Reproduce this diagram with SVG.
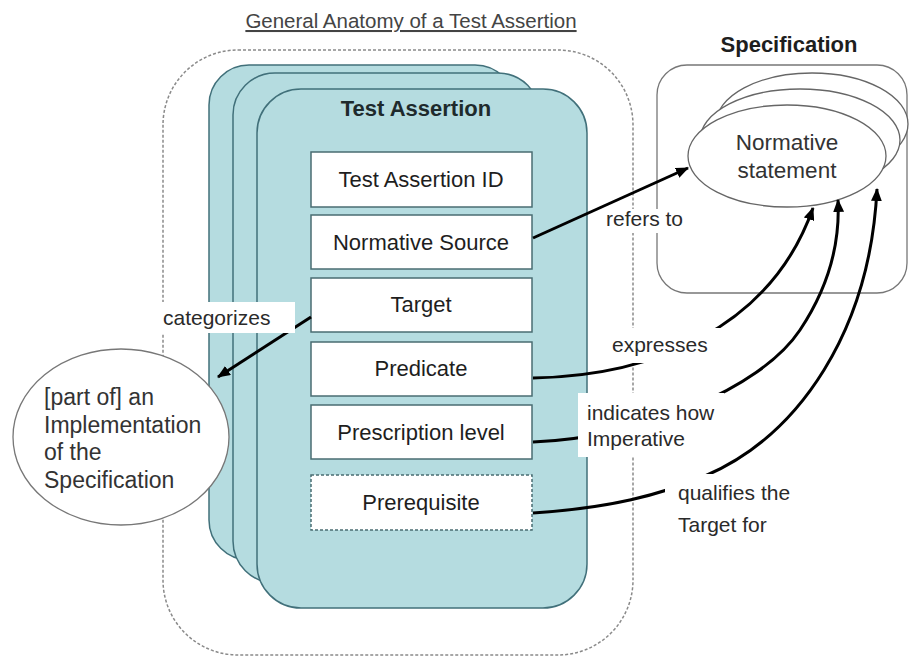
<svg xmlns="http://www.w3.org/2000/svg" width="909" height="658" viewBox="0 0 909 658">
<style>
text{font-family:"Liberation Sans",Arial,sans-serif;}
.card{fill:#b5dce0;stroke:#41707a;stroke-width:1.5;}
.field{fill:#ffffff;stroke:#4a6c72;stroke-width:1.5;}
.ftxt{font-size:22px;fill:#1e1e1e;text-anchor:middle;}
.lbl{font-size:21px;fill:#2a2a2a;}
.lblbg{fill:#ffffff;}
.conn{fill:none;stroke:#000;stroke-width:3;}
.ell{fill:#ffffff;stroke:#666;stroke-width:1.3;}
</style>
<defs>
<marker id="ah" viewBox="0 0 12 10" refX="11" refY="5" markerWidth="13" markerHeight="11" markerUnits="userSpaceOnUse" orient="auto">
<path d="M0,0 L12,5 L0,10 z" fill="#000"/>
</marker>
</defs>
<rect width="909" height="658" fill="#ffffff"/>
<text x="411" y="28" font-size="20.5" fill="#444" text-anchor="middle" text-decoration="underline">General Anatomy of a Test Assertion</text>

<g id="scope">
<rect x="163" y="50" width="470" height="605" rx="75" ry="75" fill="none" stroke="#8a8a8a" stroke-width="1.5" stroke-dasharray="3,2"/>
</g>

<g id="specification">
<text x="789" y="52" font-size="22" font-weight="bold" fill="#1e1e1e" text-anchor="middle">Specification</text>
<rect x="657" y="65" width="250" height="228" rx="30" ry="30" fill="none" stroke="#777" stroke-width="1.3"/>
</g>

<g id="normative-statement">
<ellipse class="ell" cx="812" cy="124" rx="96" ry="51"/>
<ellipse class="ell" cx="800" cy="140" rx="100" ry="51"/>
<ellipse class="ell" cx="787" cy="156" rx="99" ry="51"/>
<text x="787" y="150" font-size="22.5" fill="#333" text-anchor="middle">Normative</text>
<text x="787" y="178" font-size="22.5" fill="#333" text-anchor="middle">statement</text>
</g>

<g id="test-assertion">
<rect class="card" x="209" y="65" width="306" height="495" rx="40" ry="40"/>
<rect class="card" x="233" y="73" width="307" height="510" rx="42" ry="42"/>
<rect class="card" x="257" y="89" width="330" height="519" rx="44" ry="44"/>
<text x="416" y="116" font-size="22" font-weight="bold" fill="#1e2a2c" text-anchor="middle">Test Assertion</text>
</g>

<g id="field-id">
<rect class="field" x="311" y="152" width="221" height="55"/>
<text class="ftxt" x="421" y="187">Test Assertion ID</text>
</g>
<g id="field-source">
<rect class="field" x="311" y="215" width="221" height="54"/>
<text class="ftxt" x="421" y="250">Normative Source</text>
</g>
<g id="field-target">
<rect class="field" x="311" y="278" width="221" height="54"/>
<text class="ftxt" x="421" y="312">Target</text>
</g>
<g id="field-predicate">
<rect class="field" x="311" y="342" width="221" height="54"/>
<text class="ftxt" x="421" y="376">Predicate</text>
</g>
<g id="field-prescription">
<rect class="field" x="311" y="405" width="221" height="54"/>
<text class="ftxt" x="421" y="440">Prescription level</text>
</g>
<g id="field-prerequisite">
<rect class="field" x="311" y="475" width="221" height="55" stroke-dasharray="3,2"/>
<text class="ftxt" x="421" y="510">Prerequisite</text>
</g>

<g id="implementation">
<ellipse cx="121" cy="437" rx="108" ry="88" fill="#ffffff" stroke="#777" stroke-width="1.3"/>
<text x="44" y="405" font-size="23" fill="#333">[part of] an</text>
<text x="44" y="433" font-size="23" fill="#333">Implementation</text>
<text x="44" y="460" font-size="23" fill="#333">of the</text>
<text x="44" y="488" font-size="23" fill="#333">Specification</text>
</g>

<g id="connectors">
<path class="conn" d="M533,238 L688,168" marker-end="url(#ah)"/>
<path class="conn" d="M311,317 L218,377" marker-end="url(#ah)"/>
<path class="conn" d="M533,378 C650,376 770,330 813,208" marker-end="url(#ah)"/>
<path class="conn" d="M533,442 C640,438 760,390 800,330 C830,285 840,240 838,200" marker-end="url(#ah)"/>
<path class="conn" d="M533,513 C610,508 660,495 705,476 C800,435 870,330 877,189" marker-end="url(#ah)"/>
</g>

<g id="labels">
<rect class="lblbg" x="160" y="302" width="135" height="31"/>
<text class="lbl" x="163" y="325">categorizes</text>
<rect class="lblbg" x="603" y="209" width="90" height="24"/>
<text class="lbl" x="606" y="226">refers to</text>
<rect class="lblbg" x="606" y="328" width="116" height="35"/>
<text class="lbl" x="612" y="352">expresses</text>
<rect class="lblbg" x="578" y="393" width="146" height="64"/>
<text class="lbl" x="587" y="420">indicates how</text>
<text class="lbl" x="587" y="446">Imperative</text>
<rect class="lblbg" x="665" y="474" width="130" height="68"/>
<text class="lbl" x="678" y="500">qualifies the</text>
<text class="lbl" x="678" y="532">Target for</text>
</g>
</svg>
